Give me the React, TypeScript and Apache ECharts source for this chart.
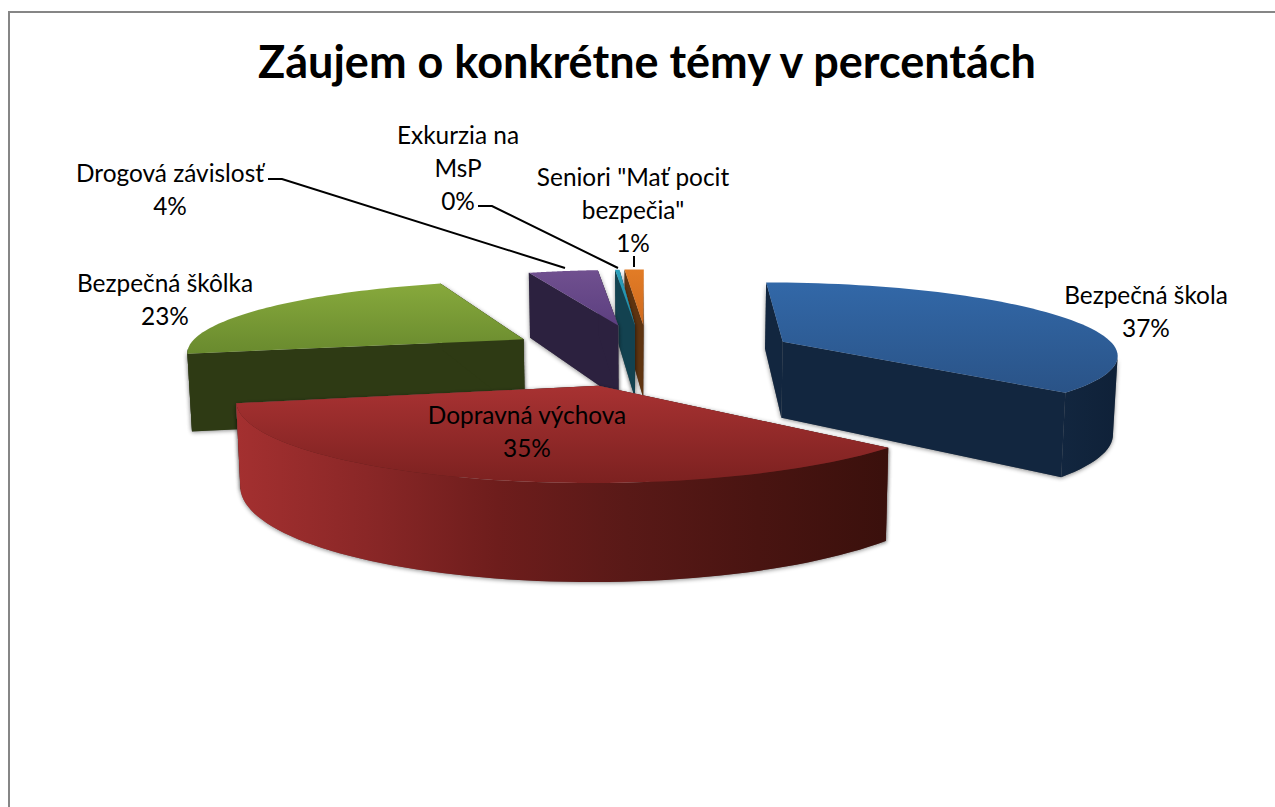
import React, { useEffect, useRef } from "react";
import * as echarts from "echarts";

const titleText = "Záujem o konkrétne témy v percentách";
const categories = [
  "Bezpečná škola",
  "Dopravná výchova",
  "Bezpečná škôlka",
  "Drogová závislosť",
  "Exkurzia na MsP",
  'Seniori "Mať pocit bezpečia"',
];
const shareValues = [36.8, 34.9, 22.8, 4.1, 0.3, 1.1];
const labelLines = [
  ["Bezpečná škola"],
  ["Dopravná výchova"],
  ["Bezpečná škôlka"],
  ["Drogová závislosť"],
  ["Exkurzia na", "MsP"],
  ['Seniori "Mať pocit', 'bezpečia"'],
];

// layout of the perspective view
const W = 1275, H = 807;
const CX = 650, CY = 354, SX = 340, SY = 71.7, K = 0.15, EXPLODE = 0.432, DEPTH = 78, FLOOR = 0.99;
const FONT = "Lato, 'Open Sans', sans-serif";
const sliceNudge = [3, -11, -2, -3, -6, -2];
const sliceWidth = [0.99, 0.983, 1, 0.97, 0.85, 1];
const paintOrder = [4, 5, 3, 2, 1, 0]; // higher is nearer
const labelAnchor = [[1146, 294], [527, 414], [165, 282], [170, 172], [458, 134], [633, 176]];
const leaders: number[][][] = [[], [], [], [[268, 179], [282, 179], [565, 268]], [[478, 206], [492, 206], [618, 268]], [[634, 256], [634, 267]]];
const topColors = [["#3268a8", "#2a5387"], ["#a83232", "#7c2120"], ["#87a93c", "#698a2e"], ["#70508f", "#5c3f80"], ["#2aa0bc", "#2488a0"], ["#e27c26", "#cf6a1e"]];
const faceColors = ["#12263f", "#5a1a18", "#2e3a14", "#2c213f", "#134250", "#5f3410"];
const rimColors: string[][] = [
  ["#12263f", "#0f2138"],
  ["#a43030", "#8a2727", "#6e1d1c", "#591917", "#491411", "#3a100c"],
  ["#2e3a14", "#2e3a14"],
  ["#2c213f", "#2c213f"],
  ["#134250", "#134250"],
  ["#5f3410", "#5f3410"],
];
const FRONT_FROM = (100 * Math.PI) / 180, FRONT_TO = (262 * Math.PI) / 180;

const project = (X: number, Y: number, floor: boolean, nudge: number, width: number) => {
  const w = 1 - K * Y;
  let x = CX + nudge + (SX * width * X) / w;
  let y = CY + (SY * Y) / w;
  if (floor) {
    x = CX + (x - CX) * FLOOR;
    y += DEPTH / w;
  }
  return [x, y];
};

const linear = (x0: number, y0: number, x1: number, y1: number, colors: string[]) =>
  new echarts.graphic.LinearGradient(
    x0, y0, x1, y1,
    colors.map((color, i) => ({ offset: i / (colors.length - 1), color })),
  );

const total = shareValues.reduce((a, b) => a + b, 0);

const renderSlice = (params: any, api: any) => {
  const i = params.dataIndex;
  const value = api.value(0);
  let before = 0;
  for (let j = 0; j < i; j++) before += shareValues[j];
  const a0 = (before / total) * Math.PI * 2;
  const a1 = ((before + value) / total) * Math.PI * 2;
  const mid = (a0 + a1) / 2;
  const ax = Math.sin(mid) * EXPLODE, ay = -Math.cos(mid) * EXPLODE;
  const nudge = sliceNudge[i], width = sliceWidth[i];
  const n = 64;
  const angles: number[] = [];
  for (let s = 0; s <= n; s++) angles.push(a0 + ((a1 - a0) * s) / n);
  const topAt = (t: number) => project(ax + Math.sin(t), ay - Math.cos(t), false, nudge, width);
  const floorAt = (t: number) => project(ax + Math.sin(t), ay - Math.cos(t), true, nudge, width);
  const top = angles.map(topAt);
  const front = angles.filter((t) => t >= FRONT_FROM && t <= FRONT_TO);
  const apexTop = project(ax, ay, false, nudge, width);
  const apexBottom = project(ax, ay, true, nudge, width);
  const base = paintOrder[i] * 10 + 1;
  const shadow = { fill: "#777", shadowBlur: 4, shadowColor: "rgba(0,0,0,0.45)", shadowOffsetY: 1 };
  const faceA = [apexTop, top[0], floorAt(a0), apexBottom];
  const faceB = [apexTop, top[n], floorAt(a1), apexBottom];
  const children: any[] = [
    { type: "polygon", z2: base, shape: { points: faceA }, style: shadow },
    { type: "polygon", z2: base, shape: { points: faceB }, style: shadow },
    { type: "polygon", z2: base + 1, shape: { points: faceA }, style: { fill: faceColors[i] } },
    { type: "polygon", z2: base + 1, shape: { points: faceB }, style: { fill: faceColors[i] } },
    {
      type: "polygon",
      z2: base + 3,
      shape: { points: [apexTop, ...top] },
      style: { fill: linear(0, 0, 0, 1, topColors[i]) },
    },
  ];
  if (front.length > 1) {
    const strip = [...front.map(topAt), ...front.slice().reverse().map(floorAt)];
    children.push(
      { type: "polygon", z2: base, shape: { points: strip }, style: shadow },
      { type: "polygon", z2: base + 2, shape: { points: strip }, style: { fill: linear(0, 0, 1, 0, rimColors[i]) } },
    );
  }
  return { type: "group", children };
};

const renderLabel = (params: any, api: any) => {
  const i = params.dataIndex;
  const pct = Math.round((api.value(0) / total) * 100);
  const [x, y] = labelAnchor[i];
  const lines = [...labelLines[i], pct + "%"];
  const children: any[] = lines.map((t, l) => ({
    type: "text",
    z2: 200,
    style: {
      x,
      y: y + l * 33,
      text: t,
      fill: "#000",
      font: `24.4px ${FONT}`,
      align: "center",
      verticalAlign: "middle",
    },
  }));
  if (leaders[i].length) {
    children.push({
      type: "polyline",
      z2: 190,
      shape: { points: leaders[i] },
      style: { stroke: "#000", lineWidth: 2, fill: "none" },
    });
  }
  return { type: "group", children };
};

export default function App() {
  const ref = useRef<HTMLDivElement>(null);
  useEffect(() => {
    const chart = echarts.init(ref.current!, undefined, { renderer: "svg" });
    const rows = shareValues.map((value, i) => ({ name: categories[i], value }));
    chart.setOption({
      animation: false,
      backgroundColor: "#fff",
      title: {
        text: titleText,
        left: 642,
        top: 56,
        textAlign: "center",
        textVerticalAlign: "middle",
        textStyle: { fontFamily: FONT, fontWeight: "bold", fontSize: 45, color: "#000" },
      },
      graphic: [
        {
          type: "rect",
          silent: true,
          z: -1,
          shape: { x: 9, y: 12, width: W + 20, height: H + 20 },
          style: { fill: "none", stroke: "#868686", lineWidth: 2 },
        },
      ],
      series: [
        { type: "custom", coordinateSystem: "none", renderItem: renderSlice, data: rows, silent: true, z: 2 },
        { type: "custom", coordinateSystem: "none", renderItem: renderLabel, data: rows, silent: true, z: 3 },
      ],
    });
    return () => chart.dispose();
  }, []);
  return <div ref={ref} style={{ position: "fixed", left: 0, top: 0, width: W, height: H }} />;
}
